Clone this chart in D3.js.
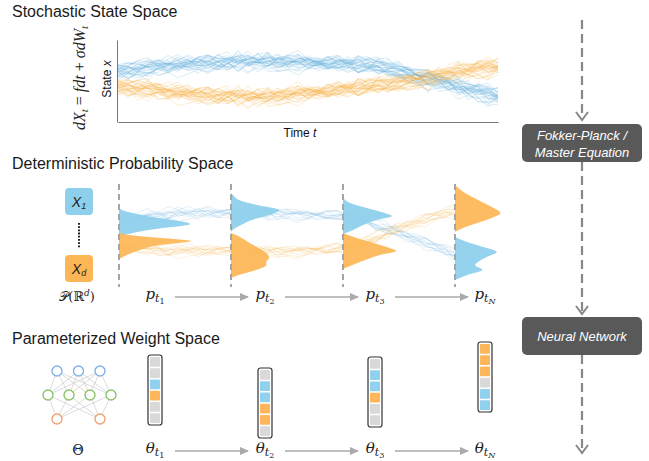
<!DOCTYPE html>
<html lang="en">
<head>
<meta charset="UTF-8">
<title>State, probability and weight spaces</title>
<style>
  body { margin: 0; background: #fff; }
  svg { display: block; font-family: "Liberation Sans", Arial, sans-serif; }
</style>
</head>
<body>
<svg width="649" height="461"></svg>
<script src="https://cdn.jsdelivr.net/npm/d3@7/dist/d3.min.js"></script>
<script>
// mean state of each bundle per time step (top panel, state 0..100)
const blueMean = [60,61,63,64,66,67,68,69,70,70,71,71,72,72,72,72,71,71,71,71,70,70,70,69,68,67,66,64,61,58,54,51,48,45,41,38,35,32,30];
const orangeMean = [41,40,39,38,37,35,34,33,32,31,30,30,30,29,29,29,30,31,33,34,35,36,38,39,40,41,43,44,46,48,50,52,55,57,60,61,63,64,66];

// mean state per step in the probability panel (state 0..10)
const blueMid = [6.3,6.5,6.6,6.8,6.9,7.0,7.1,7.1,7.1,7.2,7.1,7.1,7.1,7.0,7.1,7.0,7.0,7.0,7.0,6.9,6.9,6.9,6.8,6.8,6.6,6.3,5.9,5.6,5.3,4.9,4.6,4.2,3.8,3.4,2.9];
const orangeMid = [3.8,3.7,3.6,3.5,3.5,3.4,3.4,3.5,3.4,3.4,3.5,3.4,3.4,3.3,3.3,3.4,3.3,3.3,3.4,3.4,3.5,3.5,3.6,3.7,3.9,4.3,4.7,5.1,5.5,5.9,6.2,6.5,6.8,7.0,7.2];

// hand-typed wiggle values used to spread the sample paths
const jitter = [0.3,-0.8,0.5,0.9,-0.2,-0.6,0.7,-0.4,0.1,0.8,-0.9,0.2,-0.3,0.6,-0.7,0.4,1.0,-0.5,-0.1,0.7,-0.8,0.3,0.9,-0.6,0.2,-0.2,0.5,-0.9,0.8,-0.4,0.0,0.6,-0.7,-0.3,0.4,0.9,-0.5,0.1,-0.8,0.7,-0.1,0.5,-0.6,0.3,0.8,-0.9,0.2];

const timeLabels = ["1", "2", "3", "N"];

// densities p_t as [state, density]
const blueDensity = [
  [[7.75,0],[7.45,0.04],[7.16,0.19],[6.76,0.47],[6.47,0.75],[6.08,0.99],[5.88,0.86],[5.69,0.61],[5.39,0.33],[5.10,0.13],[4.80,0]],
  [[9.12,0],[8.82,0.04],[8.43,0.11],[7.94,0.36],[7.45,0.67],[7.25,0.64],[6.96,0.53],[6.47,0.29],[5.98,0.14],[5.59,0.04],[5.29,0]],
  [[8.63,0],[8.14,0.10],[7.65,0.33],[7.16,0.58],[6.86,0.68],[6.47,0.47],[5.98,0.28],[5.49,0.14],[5.10,0]],
  [[4.80,0],[4.31,0.17],[3.82,0.39],[3.33,0.58],[2.84,0.44],[2.35,0.32],[2.06,0.28],[1.57,0.38],[1.08,0.17],[0.59,0]]
];
const orangeDensity = [
  [[5.20,0],[5.00,0.14],[4.80,0.42],[4.61,0.76],[4.41,1.0],[4.22,0.83],[4.02,0.57],[3.53,0.29],[3.04,0.11],[2.65,0]],
  [[5.20,0],[5.00,0.07],[4.71,0.15],[4.22,0.26],[3.82,0.36],[3.24,0.49],[2.75,0.53],[2.35,0.49],[2.06,0.49],[1.57,0.35],[1.08,0.11],[0.78,0]],
  [[5.20,0],[4.71,0.19],[4.22,0.42],[3.73,0.65],[3.43,0.74],[3.04,0.51],[2.55,0.31],[2.06,0.13],[1.67,0]],
  [[9.90,0],[9.12,0.14],[8.43,0.32],[7.75,0.51],[7.16,0.63],[6.67,0.51],[6.18,0.31],[5.69,0.11],[5.29,0]]
];

// weight vector cells per time (g = unused, b = blue, o = orange)
const weightCells = [
  ["g","g","b","o","g","g"],
  ["g","b","b","o","o","g"],
  ["g","b","b","o","g","g"],
  ["o","o","o","g","b","b"]
];
const netLayers = [3, 4, 2];

const blue = "#5aa8dc", orange = "#f5a936";
const blueFill = "#8ed0ec", orangeFill = "#fdb655";
const cellColor = {g: "#d9d9d9", b: "#8fd1ef", o: "#fdb75a"};
const layerColor = ["#7fb2e6", "#8cc36a", "#f2a070"];
const mathFont = "'DejaVu Serif', 'Liberation Serif', serif";

const svg = d3.select("svg");

svg.append("defs").append("marker")
    .attr("id", "tri")
    .attr("markerUnits", "userSpaceOnUse")
    .attr("markerWidth", 9).attr("markerHeight", 8)
    .attr("refX", 8).attr("refY", 4)
    .attr("orient", "auto")
  .append("path")
    .attr("d", "M0,0L9,4L0,8Z")
    .attr("fill", "#aaa");

// section titles
[["Stochastic State Space", 17], ["Deterministic Probability Space", 169], ["Parameterized Weight Space", 344]]
  .forEach(([t, y]) => svg.append("text")
    .attr("x", 12).attr("y", y)
    .attr("font-size", 16).attr("fill", "#1a1a1a")
    .text(t));

function samplePath(mean, k, amp) {
  return mean.map((m, i) => m
    + amp[0] * jitter[(k * 5 + 3) % 47]
    + amp[1] * jitter[(i + k * 11) % 47]
    + amp[2] * jitter[(i * 3 + k * 7) % 47]
    + amp[3] * jitter[(Math.floor(i / 4) + k * 13) % 47]);
}

// ---- top panel
const xTop = d3.scaleLinear().domain([0, blueMean.length - 1]).range([118, 498]);
const yTop = d3.scaleLinear().domain([0, 100]).range([122, 40]);
const lineTop = d3.line().x((d, i) => xTop(i)).y(d => yTop(d));

const topPaths = svg.append("g").attr("fill", "none").attr("stroke-width", 0.75);
[[blueMean, blue], [orangeMean, orange]].forEach(([mean, c]) => {
  topPaths.append("g")
      .attr("stroke", c).attr("stroke-opacity", 0.3)
    .selectAll("path")
    .data(d3.range(30).map(k => samplePath(mean, k, [6.5, 5, 4, 3.5])))
    .join("path")
      .attr("d", lineTop);
});

svg.append("g").attr("transform", "translate(117,0)")
    .call(d3.axisLeft(yTop).ticks(0).tickSizeOuter(0))
    .call(g => g.select(".domain").attr("stroke", "#777"));
svg.append("g").attr("transform", "translate(0,122)")
    .call(d3.axisBottom(xTop).ticks(0).tickSizeOuter(0))
    .call(g => g.select(".domain").attr("stroke", "#777"));

const stateLab = svg.append("text")
    .attr("transform", "translate(111,79) rotate(-90)")
    .attr("text-anchor", "middle").attr("font-size", 12).attr("fill", "#111");
stateLab.append("tspan").text("State ");
stateLab.append("tspan").attr("font-style", "italic").text("x");

const timeLab = svg.append("text")
    .attr("x", 300).attr("y", 137)
    .attr("text-anchor", "middle").attr("font-size", 12).attr("fill", "#111");
timeLab.append("tspan").text("Time ");
timeLab.append("tspan").attr("font-style", "italic").text("t");

const sde = svg.append("text")
    .attr("transform", "translate(85,78) rotate(-90)")
    .attr("text-anchor", "middle").attr("font-family", "'Liberation Serif', serif")
    .attr("font-size", 16).attr("fill", "#222");
[["dX", true], ["t", true, 3], [" = ", false, -3], ["fdt", true], [" + ", false], ["σdW", true], ["t", true, 3]]
  .forEach(([s, it, dy]) => {
    const t = sde.append("tspan").text(s).attr("font-style", it ? "italic" : "normal");
    if (dy) t.attr("dy", dy);
    if (dy === 3) t.attr("font-size", 11);
  });

// ---- middle panel
const xMid = d3.scaleLinear().domain([0, blueMid.length - 1]).range([119, 455]);
const yMid = d3.scaleLinear().domain([0, 10]).range([286, 184]);
const dens = d3.scaleLinear().domain([0, 1]).range([0, 72]);
const tPos = d3.scalePoint().domain(timeLabels).range([119, 455]);
const labPos = d3.scalePoint().domain(timeLabels).range([155, 485]);
const lineMid = d3.line().x((d, i) => xMid(i)).y(d => yMid(d));

const midPaths = svg.append("g").attr("fill", "none").attr("stroke-width", 0.7);
[[blueMid, blue], [orangeMid, orange]].forEach(([mean, c]) => {
  midPaths.append("g")
      .attr("stroke", c).attr("stroke-opacity", 0.25)
    .selectAll("path")
    .data(d3.range(12).map(k => samplePath(mean, k, [0.35, 0.3, 0.2, 0.2])))
    .join("path")
      .attr("d", lineMid);
});

const densArea = x0 => d3.area()
    .y(d => yMid(d[0]))
    .x0(x0)
    .x1(d => x0 + dens(d[1]))
    .curve(d3.curveMonotoneY);

timeLabels.forEach((t, i) => {
  const x0 = tPos(t);
  svg.append("path").attr("d", densArea(x0)(blueDensity[i])).attr("fill", blueFill).attr("fill-opacity", 0.95);
  svg.append("path").attr("d", densArea(x0)(orangeDensity[i])).attr("fill", orangeFill).attr("fill-opacity", 0.92);
});

svg.append("g")
  .selectAll("line")
  .data(timeLabels)
  .join("line")
    .attr("x1", d => tPos(d)).attr("x2", d => tPos(d))
    .attr("y1", 184).attr("y2", 287)
    .attr("stroke", "#a5a5a5").attr("stroke-width", 2)
    .attr("stroke-dasharray", "6,4");

// variable boxes
[["1", 188, blueFill], ["d", 255, orangeFill]].forEach(([s, y, c]) => {
  svg.append("rect").attr("x", 65).attr("y", y).attr("width", 28).attr("height", 27)
      .attr("rx", 4).attr("fill", c);
  const t = svg.append("text").attr("x", 79).attr("y", y + 19)
      .attr("text-anchor", "middle").attr("font-style", "italic")
      .attr("font-size", 14).attr("fill", "#222");
  t.append("tspan").text("X");
  t.append("tspan").attr("dy", 2).attr("font-size", 9).text(s);
});
svg.append("line").attr("x1", 79).attr("x2", 79).attr("y1", 223).attr("y2", 248)
    .attr("stroke", "#222").attr("stroke-width", 2).attr("stroke-dasharray", "1.8,1.4");

const pr = svg.append("text").attr("x", 77).attr("y", 301)
    .attr("text-anchor", "middle").attr("font-family", mathFont)
    .attr("font-size", 13).attr("fill", "#222");
pr.append("tspan").text("𝒫(ℝ");
pr.append("tspan").attr("dy", -5).attr("font-size", 9).attr("font-style", "italic").text("d");
pr.append("tspan").attr("dy", 5).text(")");

function mathLabel(x, y, base, sub) {
  const t = svg.append("text").attr("x", x).attr("y", y)
      .attr("text-anchor", "middle").attr("font-family", mathFont)
      .attr("font-style", "italic").attr("font-size", 15).attr("fill", "#222");
  t.append("tspan").text(base);
  t.append("tspan").attr("dy", 3).attr("font-size", 11).text("t");
  t.append("tspan").attr("dy", 2).attr("font-size", 8)
      .attr("font-style", sub === "N" ? "italic" : "normal").text(sub);
}

function arrows(y) {
  svg.append("g")
    .selectAll("line")
    .data(timeLabels.slice(1))
    .join("line")
      .attr("x1", (d, i) => labPos(timeLabels[i]) + 20)
      .attr("x2", d => labPos(d) - 17)
      .attr("y1", y).attr("y2", y)
      .attr("stroke", "#aaa").attr("stroke-width", 1.5)
      .attr("marker-end", "url(#tri)");
}

timeLabels.forEach(t => mathLabel(labPos(t), 299, "p", t));
arrows(297);

// ---- bottom panel: network
const layerY = d3.scalePoint().domain(d3.range(netLayers.length)).range([371, 419]);
const layerX = [d3.scalePoint().range([57, 100]), d3.scalePoint().range([48, 111]), d3.scalePoint().range([57, 100])];
const nodes = netLayers.map((n, l) => d3.range(n).map(j => ({
  x: layerX[l].domain(d3.range(n))(j), y: layerY(l), l
})));
const edges = [];
for (let l = 0; l < nodes.length - 1; l++)
  nodes[l].forEach(a => nodes[l + 1].forEach(b => edges.push([a, b])));

svg.append("g").attr("stroke", "#d2d2d2").attr("stroke-width", 0.8)
  .selectAll("line").data(edges).join("line")
    .attr("x1", d => d[0].x).attr("y1", d => d[0].y)
    .attr("x2", d => d[1].x).attr("y2", d => d[1].y);
svg.append("g")
  .selectAll("circle").data(nodes.flat()).join("circle")
    .attr("cx", d => d.x).attr("cy", d => d.y).attr("r", 5)
    .attr("fill", "#fff").attr("stroke", d => layerColor[d.l]).attr("stroke-width", 1.4);

svg.append("text").attr("x", 78).attr("y", 455)
    .attr("text-anchor", "middle").attr("font-family", mathFont)
    .attr("font-size", 14).attr("fill", "#222").text("Θ");

// weight columns
const colTop = [355, 368, 357, 342];
const cellY = d3.scaleBand().domain(d3.range(6)).range([2, 68]).paddingInner(0.14);
timeLabels.forEach((t, i) => {
  const g = svg.append("g").attr("transform", `translate(${labPos(t) - 7},${colTop[i]})`);
  g.append("rect").attr("width", 14).attr("height", 70).attr("rx", 2.5)
      .attr("fill", "#fff").attr("stroke", "#333").attr("stroke-width", 1.2);
  g.selectAll(".cell").data(weightCells[i]).join("rect")
      .attr("x", 2).attr("y", (d, j) => cellY(j))
      .attr("width", 10).attr("height", cellY.bandwidth()).attr("rx", 1)
      .attr("fill", d => cellColor[d]);
  mathLabel(labPos(t), 453, "θ", t);
});
arrows(451);

// ---- right column
const flow = svg.append("g");
[[20, 120], [162, 314], [355, 453]].forEach(([a, b]) => {
  flow.append("line").attr("x1", 582).attr("x2", 582).attr("y1", a).attr("y2", b - 3)
      .attr("stroke", "#888").attr("stroke-width", 2.2).attr("stroke-dasharray", "9,5");
  flow.append("path").attr("d", `M576,${b - 8}L582,${b}L588,${b - 8}`)
      .attr("fill", "none").attr("stroke", "#888").attr("stroke-width", 2);
});
[[124, 38, ["Fokker-Planck /", "Master Equation"]], [317, 38, ["Neural Network"]]].forEach(([y, h, lines]) => {
  flow.append("rect").attr("x", 522).attr("y", y).attr("width", 120).attr("height", h)
      .attr("rx", 5).attr("fill", "#595959");
  lines.forEach((s, j) => flow.append("text")
      .attr("x", 582).attr("y", y + (lines.length === 1 ? 24 : 15.5 + j * 17))
      .attr("text-anchor", "middle").attr("font-style", "italic")
      .attr("font-size", 13).attr("fill", "#fff").text(s));
});
</script>
</body>
</html>
